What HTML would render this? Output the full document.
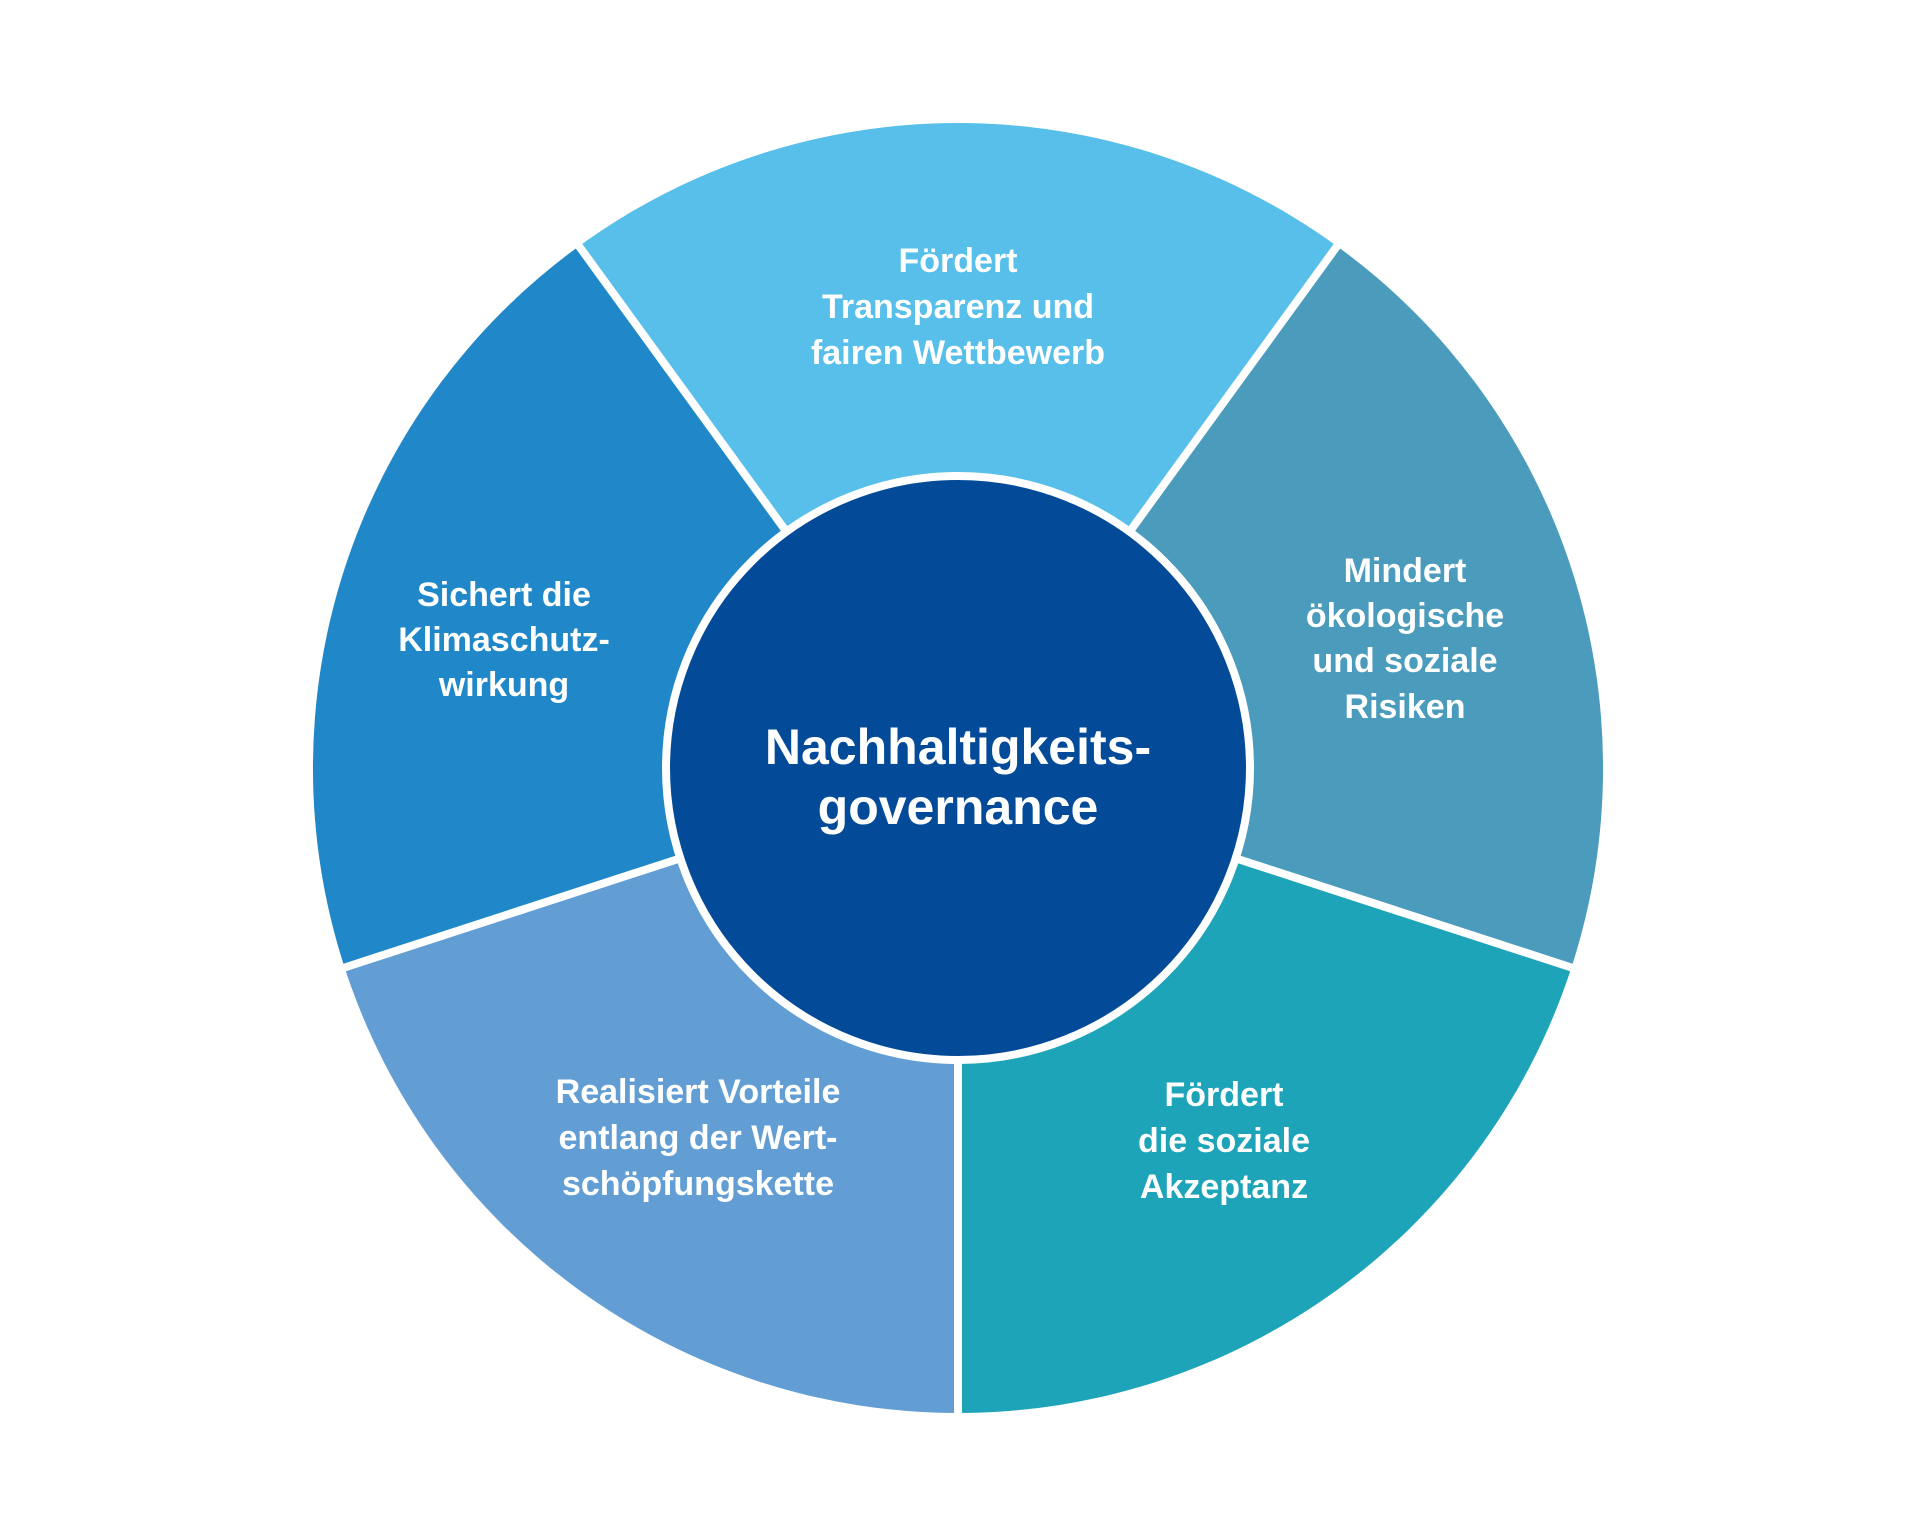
<!DOCTYPE html>
<html><head><meta charset="utf-8"><style>
html,body{margin:0;padding:0;background:#fff;}
svg{display:block;}
text{font-family:"Liberation Sans",sans-serif;font-weight:bold;fill:#fff;text-anchor:middle;}
</style></head><body>
<svg width="1913" height="1535" viewBox="0 0 1913 1535" xmlns="http://www.w3.org/2000/svg">
<path d="M958 768 L578.9 246.2 A645 645 0 0 1 1337.1 246.2 Z" fill="#57BFEA"/>
<path d="M958 768 L1337.1 246.2 A645 645 0 0 1 1571.5 967.3 Z" fill="#4A9BBC"/>
<path d="M958 768 L1571.5 967.3 A645 645 0 0 1 958 1413 Z" fill="#1EA4B8"/>
<path d="M958 768 L958 1413 A645 645 0 0 1 344.5 967.3 Z" fill="#629ED4"/>
<path d="M958 768 L344.5 967.3 A645 645 0 0 1 578.9 246.2 Z" fill="#2087C9"/>
<g stroke="#fff" stroke-width="8">
<line x1="958" y1="768" x2="1340" y2="242"/>
<line x1="958" y1="768" x2="1576" y2="969"/>
<line x1="958" y1="768" x2="958" y2="1420"/>
<line x1="958" y1="768" x2="340" y2="969"/>
<line x1="958" y1="768" x2="576" y2="242"/>
</g>
<circle cx="958" cy="768" r="292" fill="#034A98" stroke="#fff" stroke-width="8"/>
<g font-size="34">
<text x="958" y="272">Fördert</text>
<text x="958" y="318">Transparenz und</text>
<text x="958" y="364">fairen Wettbewerb</text>
<text x="1405" y="582">Mindert</text>
<text x="1405" y="627">ökologische</text>
<text x="1405" y="672">und soziale</text>
<text x="1405" y="718">Risiken</text>
<text x="504" y="606">Sichert die</text>
<text x="504" y="651">Klimaschutz-</text>
<text x="504" y="696">wirkung</text>
<text x="698" y="1103">Realisiert Vorteile</text>
<text x="698" y="1149">entlang der Wert-</text>
<text x="698" y="1195">schöpfungskette</text>
<text x="1224" y="1106">Fördert</text>
<text x="1224" y="1152">die soziale</text>
<text x="1224" y="1198">Akzeptanz</text>
</g>
<g font-size="50">
<text x="958" y="764">Nachhaltigkeits-</text>
<text x="958" y="824">governance</text>
</g>
</svg>
</body></html>
